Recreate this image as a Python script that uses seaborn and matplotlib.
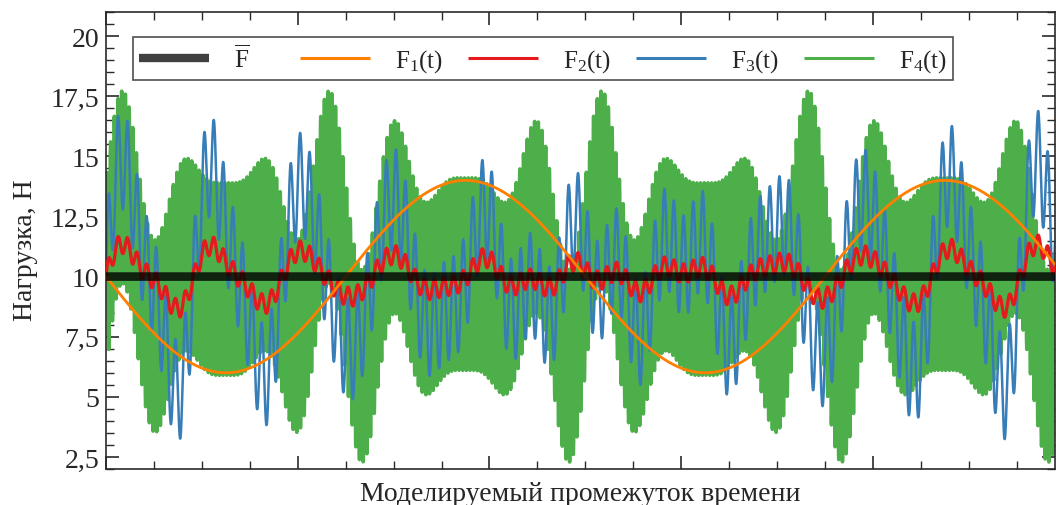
import numpy as np
import pandas as pd
import matplotlib
matplotlib.use("Agg")
import matplotlib.pyplot as plt
import seaborn as sns
from matplotlib.lines import Line2D
from matplotlib.ticker import MultipleLocator

# ---------------- data ----------------
t_end = 0.99            # s, visible span of the time axis
n_points = 30000
F_mean = 10.0           # mean load, N

# each load: F(t) = F_mean + sum(amp * sin(2*pi*freq*t + phase))
F1_freqs = [2.0]
F1_amps = [-4.0]
F1_phases = [0.0]

F2_freqs = [10.5, 11.5, 21.0, 23.0, 100.0]
F2_amps = [0.75, 0.45, 0.22, 0.13, 0.40]
F2_phases = [0.05, -0.054, 0.10, -0.108, 0.0]

F3_freqs = [10.5, 11.5, 21.0, 23.0, 100.0]
F3_amps = [2.7, 1.6, 0.8, 0.5, 2.1]
F3_phases = [0.05, -0.054, 0.10, -0.108, 0.0]

F4_freqs = [10.0, 14.0, 18.0, 260.0]
F4_amps = [0.95, 2.0, 0.95, 4.0]
F4_phases = [0.0, 0.0, 0.0, 0.0]

y_ticks = [2.5, 5, 7.5, 10, 12.5, 15, 17.5, 20]
y_tick_labels = ["2,5", "5", "7,5", "10", "12,5", "15", "17,5", "20"]
series_labels = [r"$\overline{\mathrm{F}}$", r"$\mathrm{F_1(t)}$", r"$\mathrm{F_2(t)}$",
                 r"$\mathrm{F_3(t)}$", r"$\mathrm{F_4(t)}$"]
x_label = "Моделируемый промежуток времени"
y_label = "Нагрузка, Н"

# ---------------- build series ----------------
t = np.linspace(0.0, t_end, n_points)


def load(freqs, amps, phases):
    y = np.full_like(t, F_mean)
    for f, a, p in zip(freqs, amps, phases):
        y = y + a * np.sin(2 * np.pi * f * t + p)
    return y


df = pd.DataFrame({
    "t": t,
    "Fm": np.full_like(t, F_mean),
    "F1": load(F1_freqs, F1_amps, F1_phases),
    "F2": load(F2_freqs, F2_amps, F2_phases),
    "F3": load(F3_freqs, F3_amps, F3_phases),
    "F4": load(F4_freqs, F4_amps, F4_phases),
})

# ---------------- style ----------------
sns.set_theme(style="ticks")
plt.rcParams["font.family"] = ["Liberation Serif", "DejaVu Serif"]
plt.rcParams["mathtext.fontset"] = "custom"
plt.rcParams["mathtext.rm"] = "Liberation Serif"
plt.rcParams["mathtext.it"] = "Liberation Serif:italic"
plt.rcParams["axes.edgecolor"] = "#2a2a2a"
plt.rcParams["axes.linewidth"] = 1.2

pal = sns.color_palette("Set1")
c_red, c_blue, c_green, c_orange = pal[0], pal[1], pal[2], pal[4]

fig = plt.figure(figsize=(10.56, 5.06), dpi=100)
ax = fig.add_axes([106 / 1056, 36 / 506, 949 / 1056, 457 / 506])

sns.lineplot(data=df, x="t", y="F4", ax=ax, color=c_green, lw=2.6, estimator=None, zorder=1)
sns.lineplot(data=df, x="t", y="F3", ax=ax, color=c_blue, lw=1.8, estimator=None, zorder=2)
sns.lineplot(data=df, x="t", y="F2", ax=ax, color=c_red, lw=2.3, estimator=None, zorder=3)
sns.lineplot(data=df, x="t", y="F1", ax=ax, color=c_orange, lw=2.0, estimator=None, zorder=4)
sns.lineplot(data=df, x="t", y="Fm", ax=ax, color="black", alpha=0.8, lw=6.2, estimator=None, zorder=5)

ax.set_xlim(0, t_end)
ax.set_ylim(2.0, 21.0)
ax.xaxis.set_major_locator(MultipleLocator(0.2))
ax.xaxis.set_minor_locator(MultipleLocator(0.05))
ax.set_xticklabels([])
ax.set_yticks(y_ticks, y_tick_labels)
ax.yaxis.set_minor_locator(MultipleLocator(0.5))
ax.tick_params(which="both", direction="in", top=True, right=True, color="#2a2a2a")
ax.tick_params(which="major", length=9.5, width=1.2, labelsize=20, pad=5)
ax.tick_params(which="minor", length=5.5, width=1.0)
ax.set_xlabel(x_label, fontsize=20, labelpad=4)
ax.set_ylabel(y_label, fontsize=20)
ax.yaxis.set_label_coords(-0.0715, 0.48)

handles = [
    Line2D([], [], color="black", alpha=0.75, lw=6, solid_capstyle="butt"),
    Line2D([], [], color=c_orange, lw=2.2, solid_capstyle="butt"),
    Line2D([], [], color=c_red, lw=2.2, solid_capstyle="butt"),
    Line2D([], [], color=c_blue, lw=2.2, solid_capstyle="butt"),
    Line2D([], [], color=c_green, lw=2.2, solid_capstyle="butt"),
]
labels = [series_labels[0] + "\u2007\u2007\u2007"] + series_labels[1:]
leg = ax.legend(handles, labels, ncol=5, loc="upper left", bbox_to_anchor=(0.0285, 0.945),
                borderaxespad=0, fontsize=18, frameon=True, fancybox=False,
                handlelength=2.8, handletextpad=1.0, columnspacing=1.0,
                borderpad=0.25)
leg.get_frame().set_edgecolor("#222222")
leg.get_frame().set_linewidth(1.2)
leg.set_zorder(10)

fig.savefig("out.png", dpi=100)
